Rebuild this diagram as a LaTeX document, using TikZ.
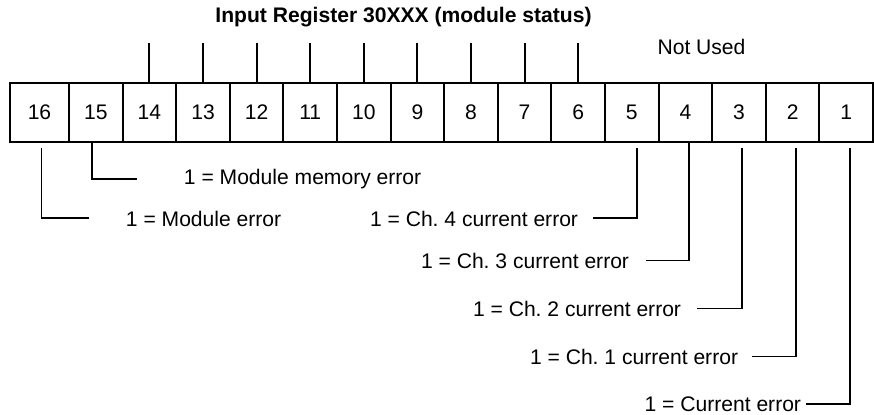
\documentclass[tikz,border=0pt]{standalone}
\usepackage{fontspec}
\setmainfont{Liberation Sans}
\frenchspacing

\begin{document}
\begin{tikzpicture}[x=0.02cm, y=-0.02cm, line width=1.1pt,
  font=\fontsize{12}{14}\selectfont,
  bitcell/.style={draw, minimum height=1.18cm, minimum width=1.072cm, inner sep=0pt},
  bitlabel/.style={inner sep=0pt}]
\useasboundingbox (0,0) rectangle (874,415);

% title
\node[font=\fontsize{12}{14}\selectfont\bfseries, anchor=base] (title) at (403.5,23)
  {Input Register 30XXX (module status)};

% register cells
\node[bitcell, minimum width=1.18cm] (b16) at (39.5,112.5) {16};
\foreach \b in {15,...,1}
  \node[bitcell] (b\b) at ({69+(15-\b)*53.6+26.8},112.5) {\b};

% bits 14 to 6
\foreach \b in {14,...,6}
  \draw (b\b.north) -- ++(0,-39);
\node[anchor=base] (unused) at (701.5,55) {Not Used};

% status bits
\node[bitlabel, anchor=base west] (t15) at (183,184) {1 = Module memory error};
\node[bitlabel, anchor=base west] (t16) at (125,226) {1 = Module error};
\node[bitlabel, anchor=base east] (t5) at (579,226) {1 = Ch. 4 current error};
\node[bitlabel, anchor=base east] (t4) at (630,268) {1 = Ch. 3 current error};
\node[bitlabel, anchor=base east] (t3) at (682,316) {1 = Ch. 2 current error};
\node[bitlabel, anchor=base east] (t2) at (739,364) {1 = Ch. 1 current error};
\node[bitlabel, anchor=base east] (t1) at (802,411) {1 = Current error};

\foreach \b/\dx/\gap/\lead in {16/2/0.1cm/0.72cm, 15/-4/0cm/0.92cm}
  \draw[shorten <=\gap, shorten >=\lead] ([xshift=\dx*0.02cm]b\b.south) |- (t\b.west);
\foreach \b/\dx/\gap/\lead in {5/5/0.1cm/0.28cm, 4/4/0cm/0.32cm, 3/3/0.1cm/0.30cm,
    2/3/0.1cm/0.26cm, 1/4/0.1cm/0.08cm}
  \draw[shorten <=\gap, shorten >=\lead] ([xshift=\dx*0.02cm]b\b.south) |- (t\b.east);
\end{tikzpicture}
\end{document}
